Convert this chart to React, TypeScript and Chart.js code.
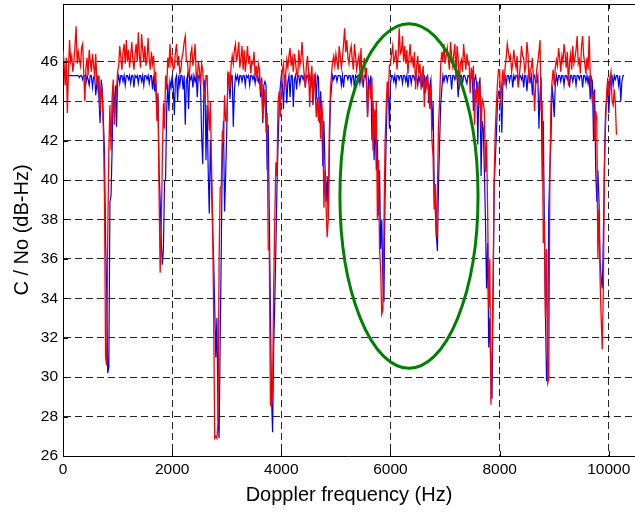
import React, { useEffect, useRef } from "react";
import { Chart, registerables } from "chart.js";

Chart.register(...registerables);

// Sampling grid of the Doppler sweep (Hz between consecutive samples)
const freqStepHz = 20;

// C/No of the first receiver (blue), one value per sample (50 samples per 1000 Hz)
const blueCn0 = [
  45.3, 45.3, 45.3, 45.3, 45.3, 45.3, 45.3, 45.3, 45.3, 45.3, 45.3, 45.3, 45.3, 45.3, 45.3, 45.2, 45.3, 45.3, 45.1, 45.3,
  45.3, 44.9, 45.3, 45.1, 44.8, 45.3, 45.3, 44.7, 45.2, 45.3, 44.3, 44.9, 45.3, 44.0, 42.9, 45.1, 44.6, 43.0, 41.5, 37.0,
  34.5, 30.2, 30.5, 38.9, 39.2, 41.6, 44.8, 43.4, 44.8, 42.7,
  45.0, 45.3, 44.9, 45.3, 45.3, 45.0, 45.3, 44.8, 45.3, 45.3, 45.1, 45.3, 44.9, 45.3, 45.3, 44.7, 45.3, 45.2, 45.3, 44.9,
  45.3, 45.3, 45.0, 45.3, 44.8, 45.3, 45.3, 45.1, 45.3, 44.9, 45.3, 45.3, 44.6, 45.3, 44.5, 45.0, 43.2, 44.4, 40.5, 39.0,
  37.0, 35.7, 36.5, 39.9, 40.1, 43.6, 44.9, 43.5, 45.0, 44.7,
  45.3, 44.7, 43.3, 45.1, 45.3, 44.0, 45.3, 44.8, 45.3, 45.3, 44.6, 45.3, 42.8, 45.0, 45.3, 43.6, 45.3, 45.1, 45.3, 44.7,
  45.3, 45.0, 45.3, 44.2, 45.3, 45.3, 44.9, 42.2, 40.8, 44.3, 45.1, 41.0, 43.8, 40.5, 38.3, 42.0, 40.0, 37.5, 36.0, 33.5,
  31.0, 33.0, 28.0, 26.9, 32.0, 36.5, 41.5, 43.0, 38.4, 40.2,
  42.5, 45.3, 45.0, 44.1, 45.3, 45.3, 42.7, 44.5, 45.3, 45.1, 45.3, 44.9, 45.3, 45.3, 45.0, 45.3, 45.3, 44.8, 45.3, 45.2,
  45.3, 44.8, 45.3, 45.3, 45.1, 45.3, 44.9, 45.3, 45.3, 45.0, 45.3, 44.2, 45.1, 42.9, 44.8, 45.0, 44.8, 40.5, 42.8, 38.0,
  33.5, 29.0, 27.2, 31.5, 33.8, 36.5, 39.6, 41.8, 43.6, 44.7,
  45.3, 44.8, 43.6, 45.3, 45.3, 43.9, 45.0, 45.3, 44.2, 45.3, 45.3, 43.7, 45.1, 45.3, 44.6, 45.3, 45.3, 44.9, 45.3, 45.3,
  45.1, 45.3, 44.7, 45.3, 45.3, 45.0, 45.3, 44.8, 45.3, 43.8, 45.0, 45.3, 44.1, 45.3, 45.2, 42.9, 44.5, 43.3, 40.7, 43.0,
  40.7, 38.9, 40.2, 38.1, 41.5, 44.0, 44.7, 45.3, 45.1, 45.3,
  45.3, 45.0, 45.3, 45.3, 45.3, 44.8, 45.3, 44.7, 45.3, 45.3, 45.3, 45.1, 45.3, 45.3, 44.9, 45.3, 45.3, 44.6, 45.3, 45.2,
  45.3, 45.3, 44.9, 45.3, 45.3, 44.7, 45.3, 45.3, 45.0, 43.2, 45.1, 44.8, 45.3, 42.0, 44.0, 41.0, 43.5, 40.5, 42.0, 38.2,
  40.5, 36.5, 38.0, 35.0, 33.8, 39.0, 42.0, 44.3, 45.0, 42.6,
  44.9, 45.3, 45.3, 45.0, 45.3, 44.8, 45.3, 45.3, 45.1, 45.3, 45.3, 44.9, 45.3, 45.3, 45.0, 45.3, 44.7, 45.3, 45.3, 44.9,
  45.3, 45.3, 45.1, 45.3, 45.3, 44.8, 45.3, 45.0, 45.3, 44.7, 45.3, 45.3, 44.4, 45.2, 45.3, 43.9, 44.8, 45.1, 42.5, 44.0,
  40.0, 38.5, 37.2, 36.4, 39.8, 41.9, 43.8, 44.6, 45.3, 45.0,
  45.3, 45.3, 45.0, 45.3, 45.3, 45.3, 44.6, 45.3, 45.3, 45.1, 45.3, 45.3, 44.2, 45.0, 45.3, 45.3, 44.9, 45.3, 45.3, 45.1,
  44.9, 45.3, 45.3, 45.0, 45.3, 45.3, 43.5, 45.1, 45.3, 44.8, 41.8, 44.6, 45.2, 40.2, 43.0, 42.6, 40.5, 38.0, 34.5, 36.8,
  31.5, 33.0, 30.0, 28.9, 34.0, 39.8, 41.0, 42.3, 43.9, 44.5,
  44.5, 44.0, 42.4, 45.0, 45.3, 45.3, 44.8, 45.3, 45.3, 45.0, 45.3, 45.3, 44.7, 45.3, 45.1, 45.3, 45.3, 44.9, 45.3, 45.3,
  45.1, 45.3, 44.7, 45.3, 45.3, 44.5, 45.3, 45.3, 45.0, 45.3, 44.3, 45.2, 45.3, 44.9, 45.0, 45.3, 42.6, 44.4, 45.2, 40.0,
  43.0, 37.5, 33.0, 29.8, 31.0, 38.5, 40.5, 42.0, 44.8, 44.2,
  43.2, 44.9, 45.3, 44.9, 45.3, 45.3, 45.0, 45.3, 45.3, 44.8, 45.3, 45.3, 45.1, 45.3, 44.7, 45.3, 45.3, 45.0, 45.3, 45.3,
  44.8, 45.3, 45.3, 45.1, 45.3, 45.3, 44.7, 45.3, 45.3, 45.0, 45.3, 44.9, 45.3, 44.1, 45.2, 45.0, 42.0, 44.6, 40.5, 38.9,
  40.5, 39.0, 35.9, 35.0, 34.5, 37.0, 40.9, 43.5, 44.0, 45.0,
  43.4, 44.6, 45.3, 45.3, 44.8, 45.3, 45.1, 45.3, 45.3, 44.8, 45.3, 44.0, 45.0, 45.3, 45.3,
];

// C/No of the second receiver (red), one value per sample (50 samples per 1000 Hz)
const redCn0 = [
  46.6, 45.9, 44.8, 46.2, 43.4, 45.6, 47.1, 46.0, 46.3, 45.5, 46.0, 46.8, 47.8, 45.9, 46.5, 46.1, 45.8, 46.7, 46.9, 45.4,
  44.0, 45.7, 46.2, 45.3, 46.6, 46.0, 45.5, 46.4, 45.9, 45.2, 46.4, 45.0, 44.6, 45.3, 43.5, 44.8, 44.2, 42.5, 39.2, 31.0,
  30.6, 37.3, 41.5, 43.8, 41.5, 44.2, 45.1, 42.8, 44.0, 44.5,
  45.5, 45.8, 46.8, 46.2, 45.6, 46.5, 46.9, 45.9, 47.1, 46.0, 46.6, 45.7, 46.3, 47.0, 46.1, 45.6, 46.4, 46.9, 46.0, 47.5,
  46.3, 45.7, 47.4, 46.6, 46.0, 46.8, 45.8, 46.2, 47.2, 46.1, 45.6, 46.5, 45.9, 46.3, 44.9, 45.5, 43.0, 44.2, 39.4, 35.3,
  37.5, 41.0, 43.9, 42.6, 45.3, 44.6, 46.2, 45.7, 46.9, 45.9,
  46.2, 45.6, 45.7, 46.5, 46.9, 45.8, 46.3, 45.4, 45.6, 46.2, 46.5, 47.0, 47.3, 46.1, 46.0, 45.3, 45.5, 46.4, 46.7, 45.8,
  46.2, 46.9, 45.4, 45.1, 46.0, 45.6, 44.8, 45.9, 45.6, 44.5, 44.2, 45.3, 45.3, 43.6, 42.5, 44.0, 41.0, 38.2, 33.3, 26.9,
  27.0, 26.9, 27.7, 36.0, 39.6, 39.7, 42.5, 41.9, 44.3, 43.0,
  43.0, 44.8, 45.5, 44.6, 45.8, 46.3, 45.9, 46.6, 46.9, 46.0, 46.4, 47.0, 45.7, 46.2, 46.8, 45.6, 46.6, 45.5, 46.1, 46.8,
  45.9, 46.3, 45.4, 46.0, 45.9, 46.5, 45.3, 45.8, 45.0, 45.9, 45.6, 44.4, 45.2, 43.1, 43.9, 44.6, 42.4, 43.4, 36.5, 36.4,
  28.6, 28.5, 29.4, 34.5, 38.0, 40.9, 40.2, 43.9, 44.5, 43.2,
  44.8, 45.6, 45.9, 44.6, 45.4, 46.1, 45.7, 46.3, 46.7, 45.8, 46.2, 45.5, 46.4, 46.0, 45.4, 45.2, 46.6, 45.8, 46.2, 47.0,
  46.0, 45.3, 44.7, 45.8, 46.3, 45.5, 43.7, 45.2, 45.8, 44.0, 45.4, 44.5, 43.2, 44.2, 43.0, 44.2, 42.1, 44.0, 43.1, 38.6,
  40.5, 38.6, 37.1, 38.0, 42.5, 44.6, 45.4, 46.0, 46.3, 45.8,
  46.4, 46.0, 45.6, 46.8, 46.3, 45.7, 46.2, 46.9, 47.7, 46.5, 47.1, 46.2, 45.9, 46.5, 46.8, 46.1, 45.6, 46.9, 46.3, 45.6,
  46.0, 46.3, 45.5, 46.7, 44.9, 45.7, 46.2, 45.3, 45.7, 43.2, 44.5, 45.0, 44.1, 45.2, 41.5, 43.6, 42.0, 44.0, 38.0, 41.0,
  36.5, 35.5, 33.2, 33.4, 37.5, 41.8, 43.5, 45.0, 44.2, 45.8,
  45.9, 46.4, 46.8, 46.0, 46.2, 46.6, 45.6, 46.3, 47.7, 46.4, 46.5, 47.3, 46.0, 46.8, 45.9, 46.6, 45.4, 46.2, 46.9, 46.0,
  46.2, 45.7, 46.5, 44.6, 45.8, 46.3, 45.4, 45.9, 44.6, 45.3, 45.8, 43.7, 45.2, 44.8, 45.3, 44.4, 43.6, 44.8, 42.0, 41.2,
  38.5, 39.8, 37.1, 39.5, 42.8, 44.0, 45.8, 46.5, 46.0, 46.9,
  45.9, 46.3, 46.7, 46.1, 45.6, 47.0, 46.3, 45.8, 46.4, 46.9, 45.1, 46.8, 46.2, 44.6, 45.9, 46.1, 45.5, 46.9, 46.2, 45.6,
  46.4, 45.9, 46.0, 44.4, 45.7, 45.2, 45.8, 42.8, 44.6, 44.2, 45.0, 43.8, 44.9, 42.6, 44.1, 43.9, 43.5, 40.4, 42.0, 38.5,
  33.5, 36.0, 28.6, 31.0, 35.0, 40.0, 42.5, 43.8, 44.9, 45.6,
  45.6, 43.8, 44.9, 45.6, 44.8, 45.7, 46.2, 46.9, 46.5, 46.1, 46.3, 45.5, 45.9, 46.6, 46.0, 45.7, 46.3, 44.7, 45.2, 45.9,
  46.8, 46.3, 46.2, 45.5, 45.8, 47.0, 46.4, 44.9, 45.6, 45.7, 46.2, 45.0, 43.5, 44.8, 45.6, 46.0, 46.5, 47.1, 43.5, 44.0,
  36.8, 38.0, 33.0, 36.5, 29.7, 29.9, 40.2, 43.8, 45.0, 45.6,
  44.8, 45.7, 46.1, 45.8, 46.7, 46.2, 45.5, 46.3, 46.0, 46.9, 46.4, 45.7, 46.5, 44.8, 46.0, 46.4, 45.6, 46.8, 45.9, 46.2,
  46.6, 47.3, 45.9, 46.1, 45.4, 46.8, 47.3, 46.3, 45.9, 45.4, 46.2, 45.6, 47.3, 45.4, 44.6, 43.9, 44.5, 42.0, 43.5, 43.1,
  36.0, 38.5, 35.0, 33.0, 31.4, 34.5, 40.5, 42.8, 44.3, 45.2,
  44.3, 45.2, 45.5, 44.0, 43.8, 44.6, 43.9, 42.3, null, null, null, null, null, null, null,
];

// Axis ticks
const xTickValues = [0, 2000, 4000, 6000, 8000, 10000];
const yTickValues = [26, 28, 30, 32, 34, 36, 38, 40, 42, 44, 46];

// Axis ranges
const xRange = [0, 10480];
const yRange = [26, 48.93];

// Highlight ellipse (data units): centre and half-axes
const ellipseCentre = [6339, 39.19];
const ellipseHalfAxes = [1265, 8.74];

const toPoints = (vals: (number | null)[]) =>
  vals.map((v, i) => ({ x: i * freqStepHz, y: v }));

const framePlugin = {
  id: "matlabFrame",
  afterDatasetsDraw(chart: any) {
    const { ctx, chartArea, scales } = chart;
    const { left, right, top, bottom } = chartArea;
    const xs = scales.x;
    const ys = scales.y;
    ctx.save();
    // highlight ellipse
    const cx = xs.getPixelForValue(ellipseCentre[0]);
    const cy = ys.getPixelForValue(ellipseCentre[1]);
    const rx = xs.getPixelForValue(ellipseCentre[0] + ellipseHalfAxes[0]) - cx;
    const ry = cy - ys.getPixelForValue(ellipseCentre[1] + ellipseHalfAxes[1]);
    ctx.strokeStyle = "#008000";
    ctx.lineWidth = 3;
    ctx.beginPath();
    ctx.ellipse(cx, cy, rx, ry, 0, 0, Math.PI * 2);
    ctx.stroke();
    // top border
    ctx.strokeStyle = "#000";
    ctx.lineWidth = 1;
    ctx.beginPath();
    ctx.moveTo(left, Math.round(top) + 0.5);
    ctx.lineTo(right, Math.round(top) + 0.5);
    ctx.stroke();
    // inward tick marks
    ctx.beginPath();
    xTickValues.forEach((v) => {
      const px = Math.round(xs.getPixelForValue(v)) + 0.5;
      ctx.moveTo(px, bottom);
      ctx.lineTo(px, bottom - 5);
      ctx.moveTo(px, top);
      ctx.lineTo(px, top + 5);
    });
    yTickValues.forEach((v) => {
      const py = Math.round(ys.getPixelForValue(v)) + 0.5;
      ctx.moveTo(left, py);
      ctx.lineTo(left + 5, py);
    });
    ctx.stroke();
    ctx.restore();
  },
};

export default function App() {
  const canvasRef = useRef<HTMLCanvasElement | null>(null);

  useEffect(() => {
    if (!canvasRef.current) return;
    Chart.defaults.font.family = "'Liberation Sans', Arial, Helvetica, sans-serif";
    Chart.defaults.color = "#000";
    const chart = new Chart(canvasRef.current, {
      type: "line",
      data: {
        datasets: [
          {
            label: "Receiver B",
            data: toPoints(redCn0),
            borderColor: "#ff0000",
            borderWidth: 1.3,
            pointRadius: 0,
            tension: 0,
            spanGaps: false,
            order: 0,
          },
          {
            label: "Receiver A",
            data: toPoints(blueCn0),
            borderColor: "#0000ff",
            borderWidth: 1.2,
            pointRadius: 0,
            tension: 0,
            order: 1,
          },
        ],
      },
      options: {
        responsive: false,
        animation: false,
        layout: { padding: { top: 4, right: 0, bottom: 0, left: 0 } },
        plugins: { legend: { display: false }, tooltip: { enabled: false } },
        scales: {
          x: {
            type: "linear",
            min: xRange[0],
            max: xRange[1],
            afterBuildTicks: (s: any) => {
              s.ticks = xTickValues.map((v) => ({ value: v }));
            },
            afterFit: (s: any) => {
              s.height = 56;
              s.paddingLeft = 0;
              s.paddingRight = 0;
            },
            ticks: {
              autoSkip: false,
              maxRotation: 0,
              padding: 4,
              color: "#000",
              font: { size: 15.5 },
              callback: (v: any) => String(v),
            },
            grid: { color: "rgba(0,0,0,0.85)", lineWidth: 1, drawTicks: false },
            border: { display: true, color: "#000", width: 1, dash: [7, 4] },
            title: {
              display: true,
              text: "Doppler frequency (Hz)",
              color: "#000",
              font: { size: 20 },
              padding: { top: 0, bottom: 5 },
            },
          },
          y: {
            type: "linear",
            min: yRange[0],
            max: yRange[1],
            afterBuildTicks: (s: any) => {
              s.ticks = yTickValues.map((v) => ({ value: v }));
            },
            afterFit: (s: any) => {
              s.width = 63;
              s.paddingTop = 0;
              s.paddingBottom = 0;
            },
            ticks: {
              padding: 5,
              color: "#000",
              font: { size: 15.5 },
              callback: (v: any) => String(v),
            },
            grid: { color: "rgba(0,0,0,0.85)", lineWidth: 1, drawTicks: false },
            border: { display: true, color: "#000", width: 1, dash: [7, 4] },
            title: {
              display: true,
              text: "C / No (dB-Hz)",
              color: "#000",
              font: { size: 20 },
              padding: { top: 10, bottom: 0 },
            },
          },
        },
      },
      plugins: [framePlugin],
    });
    return () => chart.destroy();
  }, []);

  return (
    <div
      style={{
        position: "absolute",
        left: 0,
        top: 0,
        width: 635,
        height: 512,
        background: "#fff",
      }}
    >
      <canvas ref={canvasRef} width={635} height={512} style={{ display: "block" }} />
    </div>
  );
}
